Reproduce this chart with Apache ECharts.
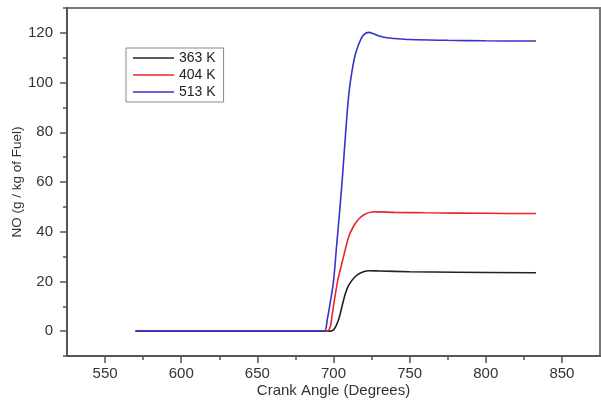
<!DOCTYPE html>
<html>
<head>
<meta charset="utf-8">
<script src="https://cdn.jsdelivr.net/npm/echarts@6/dist/echarts.min.js"></script>
<style>
  html, body { margin: 0; padding: 0; background: #fff; }
  #chart { width: 601px; height: 403px; }
</style>
</head>
<body>
<div id="chart"></div>
<script>
// NO formation vs crank angle at three intake temperatures
const seriesNames = ['363 K', '404 K', '513 K'];
const seriesColors = ['#222222', '#e8262b', '#3434c8'];

const angle363 = [570, 690, 698, 700, 702, 704, 706, 708, 710, 714, 718, 723, 730, 750, 780, 833];
const no363    = [0,   0,   0,   0.5, 2.5, 6,   11,  15.5, 18.5, 21.8, 23.5, 24.3, 24.2, 23.9, 23.7, 23.5];

const angle404 = [570, 690, 696, 698, 699, 701, 703, 705, 707, 710, 713, 716, 720, 725, 730, 740, 760, 800, 833];
const no404    = [0,   0,   0,   2,   6,   14,  21,  26,  31,  38,  42,  44.7, 46.8, 47.9, 48, 47.8, 47.6, 47.4, 47.3];

const angle513 = [570, 690, 694, 696, 698, 700, 702, 704, 706, 708, 710, 712, 714, 716, 718, 720, 723, 726, 730, 735, 740, 750, 775, 800, 833];
const no513    = [0,   0,   0,   5,   12,  20,  34,  48,  63,  80,  95,  104, 110.5, 114.5, 117.5, 119.3, 120.2, 119.7, 118.7, 118, 117.7, 117.3, 117, 116.8, 116.7];

const xMajorTicks = [550, 600, 650, 700, 750, 800, 850];
const xMinorTicks = [575, 625, 675, 725, 775, 825];
const yMajorTicks = [0, 20, 40, 60, 80, 100, 120];
const yMinorTicks = [-10, 10, 30, 50, 70, 90, 110, 130];

const xTitle = 'Crank Angle (Degrees)';
const yTitle = 'NO (g / kg of Fuel)';

const angles = [angle363, angle404, angle513];
const values = [no363, no404, no513];

const FONT = 'Liberation Sans, Arial, sans-serif';
const axisColor = '#555';

const chart = echarts.init(document.getElementById('chart'), null, { renderer: 'canvas' });

chart.setOption({
  animation: false,
  backgroundColor: '#fff',
  textStyle: { fontFamily: FONT },
  grid: {
    left: 67, right: 1, top: 8, bottom: 47,
    outerBoundsMode: 'none',
    containLabel: false,
    show: true, borderColor: '#777', borderWidth: 2, backgroundColor: 'transparent'
  },
  legend: {
    data: seriesNames,
    orient: 'vertical',
    left: 126, top: 48,
    icon: 'rect',
    itemWidth: 41, itemHeight: 1.5,
    itemGap: 1,
    padding: [2, 8, 2, 7],
    borderColor: '#888', borderWidth: 1,
    textStyle: { fontFamily: FONT, fontSize: 14, color: '#222', lineHeight: 16 }
  },
  xAxis: [
    {
      type: 'value', min: 525, max: 875, position: 'bottom',
      name: xTitle, nameLocation: 'middle', nameGap: 27, nameMoveOverlap: false,
      nameTextStyle: { fontFamily: FONT, fontSize: 15, color: '#333' },
      axisLine: { show: true, onZero: false, lineStyle: { color: axisColor, width: 2 } },
      axisTick: { show: true, inside: false, length: 7, customValues: xMajorTicks, lineStyle: { color: axisColor, width: 1.5 } },
      axisLabel: { customValues: xMajorTicks, margin: 10, fontFamily: FONT, fontSize: 15, color: '#333' },
      splitLine: { show: false }
    },
    {
      type: 'value', min: 525, max: 875, position: 'bottom', offset: 0,
      axisLine: { show: false, onZero: false },
      axisTick: { show: true, inside: false, length: 4, customValues: xMinorTicks, lineStyle: { color: axisColor, width: 1.5 } },
      axisLabel: { show: false },
      splitLine: { show: false }
    }
  ],
  yAxis: [
    {
      type: 'value', min: -10, max: 130, position: 'left',
      name: yTitle, nameLocation: 'middle', nameGap: 43, nameRotate: 90, nameMoveOverlap: false,
      nameTextStyle: { fontFamily: FONT, fontSize: 13.5, color: '#333' },
      axisLine: { show: true, onZero: false, lineStyle: { color: axisColor, width: 2 } },
      axisTick: { show: true, inside: false, length: 7, customValues: yMajorTicks, lineStyle: { color: axisColor, width: 1.5 } },
      axisLabel: { customValues: yMajorTicks, margin: 14, fontFamily: FONT, fontSize: 15, color: '#333' },
      splitLine: { show: false }
    },
    {
      type: 'value', min: -10, max: 130, position: 'left', offset: 0,
      axisLine: { show: false, onZero: false },
      axisTick: { show: true, inside: false, length: 4, customValues: yMinorTicks, lineStyle: { color: axisColor, width: 1.5 } },
      axisLabel: { show: false },
      splitLine: { show: false }
    }
  ],
  series: seriesNames.map((name, i) => ({
    name: name,
    type: 'line',
    xAxisIndex: 0,
    yAxisIndex: 0,
    smooth: 0.35,
    showSymbol: false,
    symbol: 'none',
    color: seriesColors[i],
    lineStyle: { color: seriesColors[i], width: 1.6 },
    data: angles[i].map((a, k) => [a, values[i][k]])
  }))
});
</script>
</body>
</html>
